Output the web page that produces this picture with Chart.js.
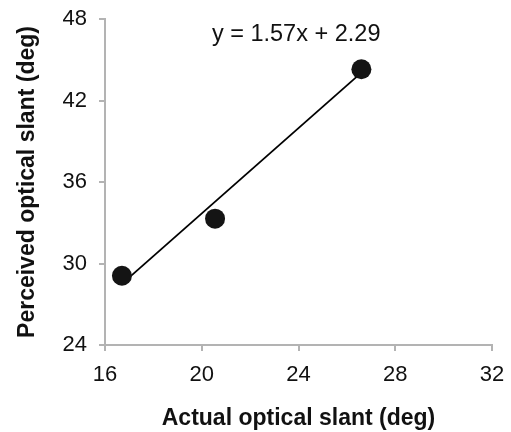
<!DOCTYPE html>
<html>
<head>
<meta charset="utf-8">
<script src="https://cdn.jsdelivr.net/npm/chart.js@4.4.0/dist/chart.umd.min.js"></script>
<style>
  html, body { margin: 0; padding: 0; background: #fff; }
</style>
</head>
<body>
<canvas id="chart-slant" width="511" height="432"></canvas>
<script>
// values
const actualSlant = [16.7, 20.55, 26.6];
const perceivedSlant = [29.1, 33.3, 44.3];
const trendX = [16.7, 26.6];
const trendY = [28.5, 44.05];
const equationText = 'y = 1.57x + 2.29';

const xTicks = [16, 20, 24, 28, 32];
const yTicks = [24, 30, 36, 42, 48];

const axisGrey = '#b3b3b3';
const fontFamily = "'Liberation Sans', Arial, Helvetica, sans-serif";

const equationLabel = {
    id: 'equationLabel',
    afterDatasetsDraw(chart) {
        const area = chart.chartArea;
        const ctx = chart.ctx;
        ctx.save();
        ctx.font = '23.5px ' + fontFamily;
        ctx.fillStyle = '#111';
        ctx.textAlign = 'center';
        ctx.textBaseline = 'middle';
        ctx.fillText(equationText, area.left + area.width * 0.494, area.top + 16);
        ctx.restore();
    }
};

const ctx1 = document.getElementById('chart-slant').getContext('2d');

new Chart(ctx1, {
    type: 'scatter',
    data: {
        datasets: [
            {
                label: 'data',
                data: actualSlant.map((x, i) => ({x: x, y: perceivedSlant[i]})),
                backgroundColor: '#141414',
                borderColor: '#141414',
                borderWidth: 0,
                pointRadius: 10,
            },
            {
                label: 'trend',
                data: trendX.map((x, i) => ({x: x, y: trendY[i]})),
                showLine: true,
                borderColor: '#000',
                borderWidth: 1.8,
                pointRadius: 0,
            }
        ]
    },
    options: {
        responsive: false,
        animation: false,
        layout: {
            padding: {top: 19, right: 19, left: 0, bottom: 0}
        },
        plugins: {
            legend: {display: false},
            tooltip: {enabled: false},
            title: {display: false}
        },
        scales: {
            x: {
                type: 'linear',
                min: xTicks[0],
                max: xTicks[xTicks.length - 1],
                afterBuildTicks: (scale) => { scale.ticks = xTicks.map(v => ({value: v})); },
                afterFit: (scale) => {
                    scale.height = 87;
                    scale.paddingLeft = 0;
                    scale.paddingRight = 0;
                },
                grid: {drawOnChartArea: false, drawTicks: true, tickLength: 6, color: axisGrey, lineWidth: 2},
                border: {display: true, color: axisGrey, width: 2},
                ticks: {color: '#111', font: {family: fontFamily, size: 22}, padding: 11, maxRotation: 0},
                title: {
                    display: true,
                    text: 'Actual optical slant (deg)',
                    color: '#111',
                    font: {family: fontFamily, size: 23, weight: 'bold'},
                    padding: {top: 0, bottom: 0}
                }
            },
            y: {
                type: 'linear',
                min: yTicks[0],
                max: yTicks[yTicks.length - 1],
                afterBuildTicks: (scale) => { scale.ticks = yTicks.map(v => ({value: v})); },
                afterFit: (scale) => {
                    scale.width = 105;
                    scale.paddingTop = 0;
                    scale.paddingBottom = 0;
                },
                grid: {drawOnChartArea: false, drawTicks: true, tickLength: 6, color: axisGrey, lineWidth: 2},
                border: {display: true, color: axisGrey, width: 2},
                ticks: {color: '#111', font: {family: fontFamily, size: 22}, padding: 12},
                title: {
                    display: true,
                    text: 'Perceived optical slant (deg)',
                    color: '#111',
                    font: {family: fontFamily, size: 23, weight: 'bold'},
                    padding: {top: 14, bottom: 0}
                }
            }
        }
    },
    plugins: [equationLabel]
});
</script>
</body>
</html>
